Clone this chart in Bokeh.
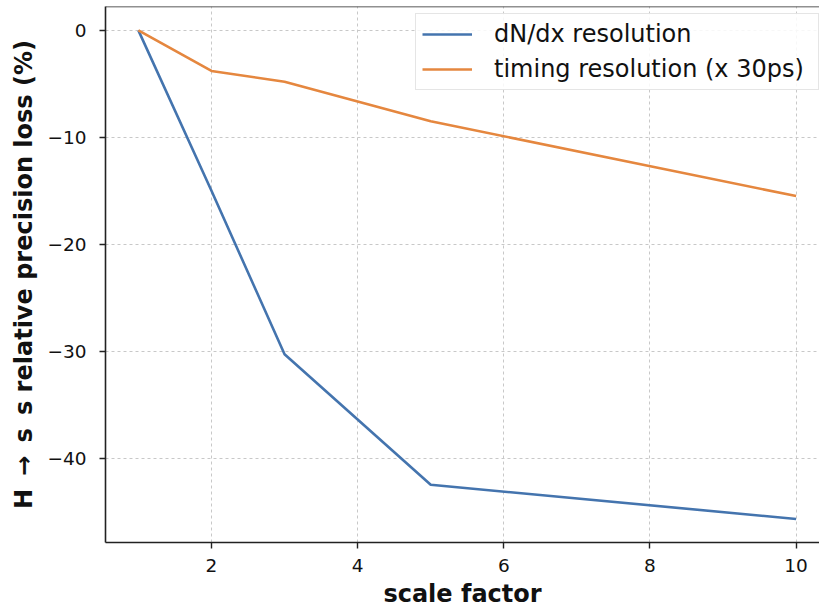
from bokeh.plotting import figure
from bokeh.models import (FixedTicker, CustomJSTickFormatter, Range1d, Span,
                          Legend, LegendItem)
from bokeh.embed import file_html
from bokeh.resources import INLINE

# ---- data ----
scale_factor = [1, 2, 3, 5, 10]
dndx_loss = [0.0, -15.0, -30.3, -42.5, -45.7]
timing_loss = [0.0, -3.8, -4.8, -8.5, -15.5]
x_ticks = [2, 4, 6, 8, 10]
y_ticks = [0, -10, -20, -30, -40]
series_names = ["dN/dx resolution", "timing resolution (x 30ps)"]
x_label = "scale factor"
y_label = "H \u2009\u2192\u2009 s\u2009 s relative precision loss (%)"

FONT = "DejaVu Sans"
BLUE = "#4474AE"
ORANGE = "#E5873F"

Y_TOP = 2.23
Y_BOT = -47.9
X_LO = 0.55
X_HI = 10.32

p = figure(width=819, height=610, output_backend="svg", toolbar_location=None,
           x_range=Range1d(X_LO, X_HI), y_range=Range1d(Y_BOT, Y_TOP),
           min_border_left=105, min_border_right=0, min_border_top=6,
           min_border_bottom=65)
p.outline_line_color = None
p.background_fill_color = "white"
p.border_fill_color = "white"

r1 = p.line(scale_factor, dndx_loss, line_color=BLUE, line_width=2.6)
r2 = p.line(scale_factor, timing_loss, line_color=ORANGE, line_width=2.6)

# top spine
p.add_layout(Span(location=Y_TOP, dimension="width", line_color="#222222",
                  line_width=1.6))

minus_fmt = CustomJSTickFormatter(code="return String(tick).replace('-', '\u2212');")

for ax in (p.xaxis[0], p.yaxis[0]):
    ax.axis_line_color = "#222222"
    ax.axis_line_width = 1.6
    ax.major_tick_line_color = "#222222"
    ax.major_tick_line_width = 1.4
    ax.major_tick_in = 0
    ax.major_tick_out = 6
    ax.minor_tick_line_color = None
    ax.major_label_text_font = FONT
    ax.major_label_text_font_size = "18.5px"
    ax.major_label_text_color = "#111111"
    ax.axis_label_text_font = FONT
    ax.axis_label_text_font_size = "24px"
    ax.axis_label_text_font_style = "bold"
    ax.axis_label_text_color = "#111111"

p.xaxis[0].ticker = FixedTicker(ticks=x_ticks)
p.yaxis[0].ticker = FixedTicker(ticks=y_ticks)
p.yaxis[0].formatter = minus_fmt
p.xaxis[0].axis_label = x_label
p.yaxis[0].axis_label = y_label
p.xaxis[0].major_label_standoff = 10
p.xaxis[0].axis_label_standoff = 5
p.yaxis[0].major_label_standoff = 13
p.yaxis[0].axis_label_standoff = 6

for g in (p.xgrid[0], p.ygrid[0]):
    g.grid_line_color = "#c8c8c8"
    g.grid_line_dash = "3 3"
    g.grid_line_width = 1

legend = Legend(items=[LegendItem(label=series_names[0], renderers=[r1]),
                       LegendItem(label=series_names[1], renderers=[r2])],
                location=(310, 452))
legend.label_text_font = FONT
legend.label_text_font_size = "24px"
legend.label_text_color = "#111111"
legend.glyph_width = 50
legend.glyph_height = 28
legend.label_height = 28
legend.label_width = 318
legend.label_standoff = 22
legend.spacing = 7
legend.padding = 6
legend.margin = 0
legend.border_line_color = "#cccccc"
legend.border_line_width = 1.2
legend.background_fill_alpha = 0.85
p.add_layout(legend)

open("out.html", "w").write(file_html(p, INLINE))
